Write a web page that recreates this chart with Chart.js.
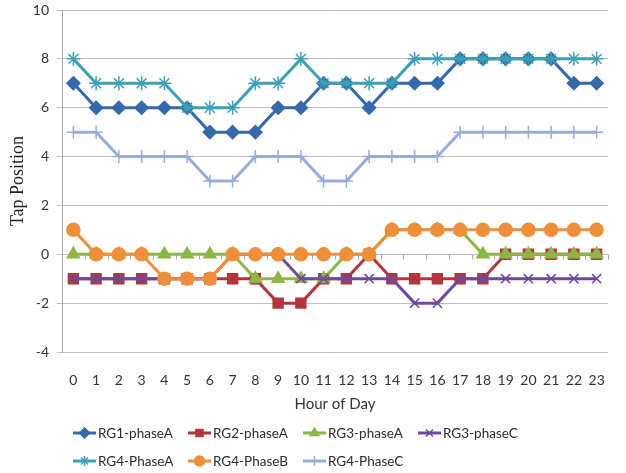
<!DOCTYPE html>
<html>
<head>
<meta charset="utf-8">
<script src="https://cdn.jsdelivr.net/npm/chart.js@4.4.1/dist/chart.umd.min.js"></script>
<style>
  html, body { margin: 0; padding: 0; background: #fff; }
  #wrap { width: 626px; height: 473px; }
</style>
</head>
<body>
<div id="wrap"><canvas id="tapChart"></canvas></div>
<script>
// hours on the x axis
const hours = ['0','1','2','3','4','5','6','7','8','9','10','11','12','13','14','15','16','17','18','19','20','21','22','23'];

// tap positions
const rg1PhaseA = [7, 6, 6, 6, 6, 6, 5, 5, 5, 6, 6, 7, 7, 6, 7, 7, 7, 8, 8, 8, 8, 8, 7, 7];
const rg2PhaseA = [-1, -1, -1, -1, -1, -1, -1, -1, -1, -2, -2, -1, -1, 0, -1, -1, -1, -1, -1, 0, 0, 0, 0, 0];
const rg3PhaseA = [0, 0, 0, 0, 0, 0, 0, 0, -1, -1, -1, -1, 0, 0, 1, 1, 1, 1, 0, 0, 0, 0, 0, 0];
const rg3PhaseC = [-1, -1, -1, -1, -1, -1, -1, 0, 0, 0, -1, -1, -1, -1, -1, -2, -2, -1, -1, -1, -1, -1, -1, -1];
const rg4PhaseA = [8, 7, 7, 7, 7, 6, 6, 6, 7, 7, 8, 7, 7, 7, 7, 8, 8, 8, 8, 8, 8, 8, 8, 8];
const rg4PhaseB = [1, 0, 0, 0, -1, -1, -1, 0, 0, 0, 0, 0, 0, 0, 1, 1, 1, 1, 1, 1, 1, 1, 1, 1];
const rg4PhaseC = [5, 5, 4, 4, 4, 4, 3, 3, 4, 4, 4, 3, 3, 4, 4, 4, 4, 5, 5, 5, 5, 5, 5, 5];

const yTicks = [-4, -2, 0, 2, 4, 6, 8, 10];

const FONT = 'Lato, "Open Sans", "Liberation Sans", sans-serif';

function series(label, data, color, style, radius) {
  return {
    label: label,
    data: data,
    borderColor: color,
    backgroundColor: color,
    borderWidth: 3,
    pointStyle: style,
    pointRadius: radius,
    pointHoverRadius: radius,
    pointBackgroundColor: color,
    pointBorderColor: color,
    pointBorderWidth: 1.5,
    tension: 0
  };
}

const datasets = [
  series('RG1-phaseA', rg1PhaseA, '#3668AC', 'rectRot', 6.5),
  series('RG2-phaseA', rg2PhaseA, '#B3363C', 'rect', 7),
  series('RG3-phaseA', rg3PhaseA, '#8CB746', 'triangle', 7),
  series('RG3-phaseC', rg3PhaseC, '#6E4A9E', 'crossRot', 6.5),
  series('RG4-PhaseA', rg4PhaseA, '#3CA1B7', 'star', 7),
  series('RG4-PhaseB', rg4PhaseB, '#EF8F3B', 'circle', 6.5),
  series('RG4-PhaseC', rg4PhaseC, '#97ACDA', 'cross', 6.5)
];
// later series sit on top, like the original
datasets.forEach((d, i) => { d.order = datasets.length - i; });

// small tick marks hanging under the zero line
const zeroTicks = {
  id: 'zeroTicks',
  afterDatasetsDraw(chart) {
    const x = chart.scales.x, y = chart.scales.y, ctx = chart.ctx;
    const y0 = Math.round(y.getPixelForValue(0)) + 0.5;
    const step = (x.right - x.left) / hours.length;
    ctx.save();
    ctx.strokeStyle = '#A6A6A6';
    ctx.lineWidth = 1;
    ctx.beginPath();
    for (let i = 1; i <= hours.length; i++) {
      const px = Math.round(x.left + i * step) + 0.5;
      ctx.moveTo(px, y0);
      ctx.lineTo(px, y0 + 5);
    }
    ctx.stroke();
    ctx.restore();
  }
};

// excel-like legend: line + marker, two rows in columns
const lineLegend = {
  id: 'lineLegend',
  afterDraw(chart) {
    const ctx = chart.ctx;
    ctx.save();
    ctx.font = '13.5px ' + FONT;
    ctx.textBaseline = 'middle';
    ctx.textAlign = 'left';
    chart.data.datasets.forEach((ds, i) => {
      const col = i % 4, row = Math.floor(i / 4);
      const x0 = 73 + col * 115;
      const y0 = 433 + row * 28;
      ctx.strokeStyle = ds.borderColor;
      ctx.lineWidth = 3;
      ctx.beginPath();
      ctx.moveTo(x0, y0);
      ctx.lineTo(x0 + 23, y0);
      ctx.stroke();
      ctx.fillStyle = ds.borderColor;
      ctx.lineWidth = 1.5;
      Chart.helpers.drawPoint(ctx, { pointStyle: ds.pointStyle, radius: 5, rotation: 0, borderWidth: 1.5 }, x0 + 11.5, y0);
      ctx.fillStyle = '#2b2b2b';
      ctx.fillText(ds.label, x0 + 25, y0 + 1);
    });
    ctx.restore();
  }
};

new Chart(document.getElementById('tapChart'), {
  type: 'line',
  data: { labels: hours, datasets: datasets },
  plugins: [zeroTicks, lineLegend],
  options: {
    responsive: true,
    maintainAspectRatio: false,
    animation: false,
    layout: { padding: { top: 10, right: 18, bottom: 57, left: 0 } },
    plugins: {
      legend: { display: false },
      tooltip: { enabled: false }
    },
    scales: {
      x: {
        type: 'category',
        offset: true,
        grid: { display: false, drawTicks: false },
        border: { display: false },
        ticks: {
          color: '#333',
          font: { family: FONT, size: 14 },
          padding: 20,
          maxRotation: 0,
          autoSkip: false
        },
        title: {
          display: true,
          text: 'Hour of Day',
          color: '#333',
          font: { family: FONT, size: 15 },
          padding: { top: 4, bottom: 3 }
        },
        afterFit(s) { s.height = 64; }
      },
      y: {
        min: -4,
        max: 10,
        afterBuildTicks(s) { s.ticks = yTicks.map(v => ({ value: v })); },
        grid: { color: '#BFBFBF', lineWidth: 1, tickLength: 5, drawTicks: true },
        border: { display: true, color: '#A6A6A6', width: 1 },
        ticks: {
          color: '#333',
          font: { family: FONT, size: 14 },
          padding: 8
        },
        title: {
          display: true,
          text: 'Tap Position',
          color: '#222',
          font: { family: '"Liberation Serif", "DejaVu Serif", serif', size: 18 },
          padding: { top: 7, bottom: 0 }
        },
        afterFit(s) {
          s.width = 62;
          s.paddingTop = 0;
          s.paddingBottom = 0;
        }
      }
    }
  }
});
</script>
</body>
</html>
